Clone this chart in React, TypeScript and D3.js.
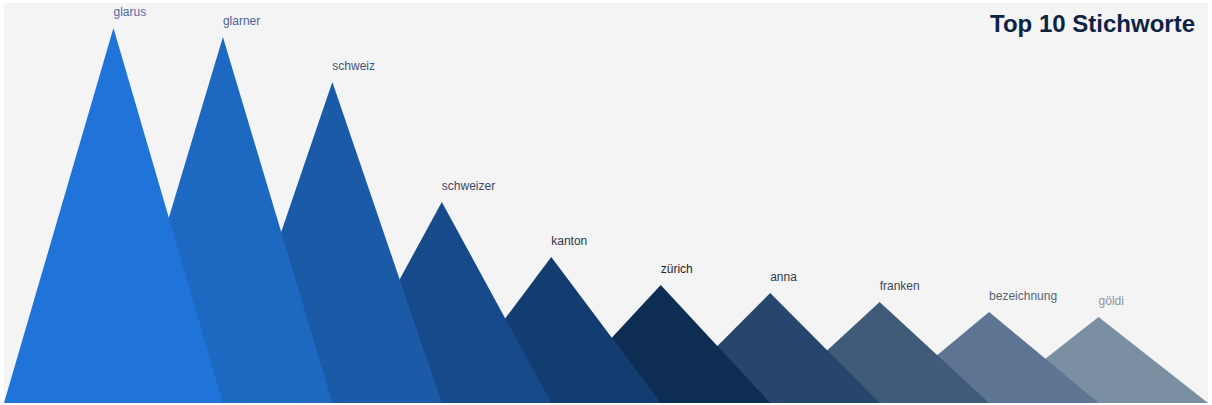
import * as d3 from 'd3';

// Top 10 keywords (peak heights in arbitrary counts).
const keywords = [
  'glarus',
  'glarner',
  'schweiz',
  'schweizer',
  'kanton',
  'zürich',
  'anna',
  'franken',
  'bezeichnung',
  'göldi',
];
const counts = [375, 366, 321, 201, 146, 118, 110, 101, 91, 86];

const fills = [
  '#1f73d9',
  '#1d68c1',
  '#1b5aa7',
  '#164a8b',
  '#133d71',
  '#0e2d53',
  '#27466e',
  '#405a79',
  '#5d7592',
  '#7a8fa2',
];
const labelColors = [
  '#4b6ea6',
  '#4a6698',
  '#40557e',
  '#3b4766',
  '#33344a',
  '#1f2430',
  '#343a44',
  '#3d4854',
  '#5a6470',
  '#8d969e',
];

const title = 'Top 10 Stichworte';

const W = 1212;
const H = 405;
const plot = { left: 4, right: 1208, top: 3, bottom: 403 };

export default function App() {
  // each peak sits on an integer slot; a triangle spans one slot either side
  const x = d3
    .scaleLinear()
    .domain([-1, keywords.length])
    .range([plot.left, plot.right]);
  const y = d3.scaleLinear().domain([0, 400]).range([plot.bottom, plot.top]);

  const tri = d3
    .line<[number, number]>()
    .x((d) => x(d[0]))
    .y((d) => y(d[1]));

  const peaks = keywords.map((k, i) => ({ k, i, v: counts[i] }));
  // the first keyword is drawn last so it sits on top
  const drawOrder = [...peaks].reverse();

  return (
    <div style={{ position: 'absolute', left: 0, top: 0 }}>
      <svg width={W} height={H} style={{ display: 'block' }}>
        <rect x={0} y={0} width={W} height={H} fill="#ffffff" />
        <rect
          x={plot.left}
          y={plot.top}
          width={plot.right - plot.left}
          height={plot.bottom - plot.top}
          fill="#f4f4f4"
        />

        {drawOrder.map((p) => (
          <path
            key={p.k}
            d={
              tri([
                [p.i - 1, 0],
                [p.i, p.v],
                [p.i + 1, 0],
              ]) + 'Z'
            }
            fill={fills[p.i]}
          />
        ))}

        {peaks.map((p) => (
          <text
            key={`lbl-${p.k}`}
            x={x(p.i)}
            y={y(p.v) - 12}
            fontSize={12}
            fontFamily="'Liberation Sans', Arial, sans-serif"
            fill={labelColors[p.i]}
          >
            {p.k}
          </text>
        ))}

        <text
          x={1195}
          y={32}
          textAnchor="end"
          fontSize={24}
          fontWeight={700}
          fontFamily="'Liberation Sans', Arial, sans-serif"
          fill="#0d2346"
        >
          {title}
        </text>
      </svg>
    </div>
  );
}
